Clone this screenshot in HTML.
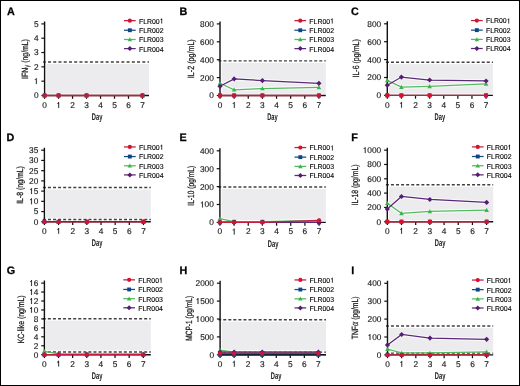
<!DOCTYPE html>
<html><head><meta charset="utf-8"><title>Cytokines</title>
<style>
html,body{margin:0;padding:0;background:#fff;}
body{width:520px;height:386px;overflow:hidden;}
svg{display:block;will-change:transform;}
text{font-family:"Liberation Sans",sans-serif;fill:#1a1a1a;text-rendering:geometricPrecision;}
.tk{font-size:8.3px;stroke:#1a1a1a;stroke-width:0.15px;}
.tk1{fill:#1a1a1a;stroke:#1a1a1a;stroke-width:36px;}
.lg{font-size:7.1px;fill:#000;stroke:#000;stroke-width:0.12px;}
.lg1{fill:#000;stroke:#000;stroke-width:30px;}
.lab{font-size:9.7px;font-weight:bold;}
.yl{font-size:9px;stroke:#1a1a1a;stroke-width:0.25px;}
.gk{stroke-width:0;font-size:8px;}
.ga{font-family:"Liberation Serif",serif;font-style:italic;stroke-width:0.15px;font-size:11px;}
.pl{font-size:10.8px;font-weight:bold;fill:#000;stroke:#000;stroke-width:0.25px;}
</style></head><body>
<svg width="520" height="386" viewBox="0 0 520 386">
<rect x="0" y="0" width="520" height="386" fill="#fff"/>
<rect x="46.3" y="64.05" width="102.7" height="29.75" fill="#ececef"/>
<polyline points="44.6,95.5 58.58,95.5 86.54,95.5 142.46,95.5" fill="none" stroke="#fff" stroke-opacity="0.75" stroke-width="3.4"/>
<line x1="43.1" y1="62.05" x2="149" y2="62.05" stroke="#404040" stroke-width="1.45" stroke-dasharray="3 2.24" stroke-dashoffset="0.34"/>
<path d="M44.6 21.4V95.5H149" fill="none" stroke="#111111" stroke-width="1.4"/>
<line x1="41.4" y1="95.5" x2="44.6" y2="95.5" stroke="#111111" stroke-width="1.2"/>
<text x="33.88" y="98.4" class="tk">0</text>
<line x1="41.4" y1="81.18" x2="44.6" y2="81.18" stroke="#111111" stroke-width="1.2"/>
<path class="tk1" transform="translate(33.88 84.08) scale(0.00405 -0.00405)" d="M700 0L510 0L510 1040L230 1040L230 1170Q390 1175 450 1230Q505 1290 520 1452L700 1452Z"/>
<line x1="41.4" y1="66.86" x2="44.6" y2="66.86" stroke="#111111" stroke-width="1.2"/>
<text x="33.88" y="69.76" class="tk">2</text>
<line x1="41.4" y1="52.54" x2="44.6" y2="52.54" stroke="#111111" stroke-width="1.2"/>
<text x="33.88" y="55.44" class="tk">3</text>
<line x1="41.4" y1="38.22" x2="44.6" y2="38.22" stroke="#111111" stroke-width="1.2"/>
<text x="33.88" y="41.12" class="tk">4</text>
<line x1="41.4" y1="23.9" x2="44.6" y2="23.9" stroke="#111111" stroke-width="1.2"/>
<text x="33.88" y="26.8" class="tk">5</text>
<line x1="44.6" y1="95.5" x2="44.6" y2="98.8" stroke="#111111" stroke-width="1.25"/>
<text x="42.29" y="107.9" class="tk">0</text>
<line x1="58.58" y1="95.5" x2="58.58" y2="98.8" stroke="#111111" stroke-width="1.25"/>
<path class="tk1" transform="translate(56.27 107.9) scale(0.00405 -0.00405)" d="M700 0L510 0L510 1040L230 1040L230 1170Q390 1175 450 1230Q505 1290 520 1452L700 1452Z"/>
<line x1="72.56" y1="95.5" x2="72.56" y2="98.8" stroke="#111111" stroke-width="1.25"/>
<text x="70.25" y="107.9" class="tk">2</text>
<line x1="86.54" y1="95.5" x2="86.54" y2="98.8" stroke="#111111" stroke-width="1.25"/>
<text x="84.23" y="107.9" class="tk">3</text>
<line x1="100.52" y1="95.5" x2="100.52" y2="98.8" stroke="#111111" stroke-width="1.25"/>
<text x="98.21" y="107.9" class="tk">4</text>
<line x1="114.5" y1="95.5" x2="114.5" y2="98.8" stroke="#111111" stroke-width="1.25"/>
<text x="112.19" y="107.9" class="tk">5</text>
<line x1="128.48" y1="95.5" x2="128.48" y2="98.8" stroke="#111111" stroke-width="1.25"/>
<text x="126.17" y="107.9" class="tk">6</text>
<line x1="142.46" y1="95.5" x2="142.46" y2="98.8" stroke="#111111" stroke-width="1.25"/>
<text x="140.15" y="107.9" class="tk">7</text>
<text x="97.1" y="119.8" class="lab" text-anchor="middle" textLength="10.6" lengthAdjust="spacingAndGlyphs">Day</text>
<text transform="translate(28.1 59) rotate(-90)" class="yl" text-anchor="middle" textLength="39.8" lengthAdjust="spacingAndGlyphs">IFN<tspan class="gk" dy="0.8">γ</tspan><tspan dy="-0.8"> (ng/mL)</tspan></text>
<text x="7" y="14.9" class="pl">A</text>
<rect x="42.6" y="93.5" width="4" height="4" fill="#0f4585"/>
<rect x="56.58" y="93.5" width="4" height="4" fill="#0f4585"/>
<rect x="84.54" y="93.5" width="4" height="4" fill="#0f4585"/>
<rect x="140.46" y="93.5" width="4" height="4" fill="#0f4585"/>
<path d="M44.6 93.2L46.9 97.34L42.3 97.34Z" fill="#3bb54a"/>
<path d="M58.58 93.2L60.88 97.34L56.28 97.34Z" fill="#3bb54a"/>
<path d="M86.54 93.2L88.84 97.34L84.24 97.34Z" fill="#3bb54a"/>
<path d="M142.46 93.2L144.76 97.34L140.16 97.34Z" fill="#3bb54a"/>
<path d="M44.6 92.9L47.2 95.5L44.6 98.1L42 95.5Z" fill="#561c74"/>
<path d="M58.58 92.9L61.18 95.5L58.58 98.1L55.98 95.5Z" fill="#561c74"/>
<path d="M86.54 92.9L89.14 95.5L86.54 98.1L83.94 95.5Z" fill="#561c74"/>
<path d="M142.46 92.9L145.06 95.5L142.46 98.1L139.86 95.5Z" fill="#561c74"/>
<polyline points="44.6,95.5 58.58,95.5 86.54,95.5 142.46,95.5" fill="none" stroke="#c81c3c" stroke-width="1.3"/>
<circle cx="44.6" cy="95.5" r="2.15" fill="#d8102f"/>
<circle cx="58.58" cy="95.5" r="2.15" fill="#d8102f"/>
<circle cx="86.54" cy="95.5" r="2.15" fill="#d8102f"/>
<circle cx="142.46" cy="95.5" r="2.15" fill="#d8102f"/>
<line x1="124" y1="20.65" x2="135.7" y2="20.65" stroke="#c81c3c" stroke-width="1.25"/>
<circle cx="129.85" cy="20.65" r="2.09" fill="#d8102f"/>
<text x="138.9" y="23.55" class="lg" textLength="20.84" lengthAdjust="spacingAndGlyphs">FLR00</text>
<path class="lg1" transform="translate(159.74 23.55) scale(0.00339 -0.00347)" d="M700 0L510 0L510 1040L230 1040L230 1170Q390 1175 450 1230Q505 1290 520 1452L700 1452Z"/>
<line x1="124" y1="30.25" x2="135.7" y2="30.25" stroke="#184a84" stroke-width="1.25"/>
<rect x="127.91" y="28.31" width="3.88" height="3.88" fill="#0f4585"/>
<text x="138.9" y="33.15" class="lg" textLength="20.84" lengthAdjust="spacingAndGlyphs">FLR00</text>
<text x="159.74" y="33.15" class="lg" textLength="3.86" lengthAdjust="spacingAndGlyphs">2</text>
<line x1="124" y1="39.5" x2="135.7" y2="39.5" stroke="#52bb5e" stroke-width="1.25"/>
<path d="M129.85 37.27L132.08 41.28L127.62 41.28Z" fill="#3bb54a"/>
<text x="138.9" y="42.4" class="lg" textLength="20.84" lengthAdjust="spacingAndGlyphs">FLR00</text>
<text x="159.74" y="42.4" class="lg" textLength="3.86" lengthAdjust="spacingAndGlyphs">3</text>
<line x1="124" y1="48.6" x2="135.7" y2="48.6" stroke="#5a2876" stroke-width="1.25"/>
<path d="M129.85 46.08L132.37 48.6L129.85 51.12L127.33 48.6Z" fill="#561c74"/>
<text x="138.9" y="51.5" class="lg" textLength="20.84" lengthAdjust="spacingAndGlyphs">FLR00</text>
<text x="159.74" y="51.5" class="lg" textLength="3.86" lengthAdjust="spacingAndGlyphs">4</text>
<rect x="221.7" y="62.85" width="104.1" height="30.95" fill="#ececef"/>
<polyline points="220,83.24 234.13,89.77 262.39,88.52 318.91,87.44" fill="none" stroke="#fff" stroke-opacity="0.75" stroke-width="3.4"/>
<polyline points="220,86.28 234.13,78.94 262.39,80.55 318.91,83.33" fill="none" stroke="#fff" stroke-opacity="0.75" stroke-width="3.4"/>
<polyline points="220,95.5 234.13,95.5 262.39,95.5 318.91,95.5" fill="none" stroke="#fff" stroke-opacity="0.75" stroke-width="3.4"/>
<line x1="218.5" y1="60.85" x2="325.8" y2="60.85" stroke="#404040" stroke-width="1.45" stroke-dasharray="3 2.04" stroke-dashoffset="0.04"/>
<path d="M220 21.4V95.5H325.8" fill="none" stroke="#111111" stroke-width="1.4"/>
<line x1="216.8" y1="95.5" x2="220" y2="95.5" stroke="#111111" stroke-width="1.2"/>
<text x="209.28" y="98.4" class="tk">0</text>
<line x1="216.8" y1="77.6" x2="220" y2="77.6" stroke="#111111" stroke-width="1.2"/>
<text x="200.05" y="80.5" class="tk">200</text>
<line x1="216.8" y1="59.7" x2="220" y2="59.7" stroke="#111111" stroke-width="1.2"/>
<text x="200.05" y="62.6" class="tk">400</text>
<line x1="216.8" y1="41.8" x2="220" y2="41.8" stroke="#111111" stroke-width="1.2"/>
<text x="200.05" y="44.7" class="tk">600</text>
<line x1="216.8" y1="23.9" x2="220" y2="23.9" stroke="#111111" stroke-width="1.2"/>
<text x="200.05" y="26.8" class="tk">800</text>
<line x1="220" y1="95.5" x2="220" y2="98.8" stroke="#111111" stroke-width="1.25"/>
<text x="217.69" y="107.9" class="tk">0</text>
<line x1="234.13" y1="95.5" x2="234.13" y2="98.8" stroke="#111111" stroke-width="1.25"/>
<path class="tk1" transform="translate(231.82 107.9) scale(0.00405 -0.00405)" d="M700 0L510 0L510 1040L230 1040L230 1170Q390 1175 450 1230Q505 1290 520 1452L700 1452Z"/>
<line x1="248.26" y1="95.5" x2="248.26" y2="98.8" stroke="#111111" stroke-width="1.25"/>
<text x="245.95" y="107.9" class="tk">2</text>
<line x1="262.39" y1="95.5" x2="262.39" y2="98.8" stroke="#111111" stroke-width="1.25"/>
<text x="260.08" y="107.9" class="tk">3</text>
<line x1="276.52" y1="95.5" x2="276.52" y2="98.8" stroke="#111111" stroke-width="1.25"/>
<text x="274.21" y="107.9" class="tk">4</text>
<line x1="290.65" y1="95.5" x2="290.65" y2="98.8" stroke="#111111" stroke-width="1.25"/>
<text x="288.34" y="107.9" class="tk">5</text>
<line x1="304.78" y1="95.5" x2="304.78" y2="98.8" stroke="#111111" stroke-width="1.25"/>
<text x="302.47" y="107.9" class="tk">6</text>
<line x1="318.91" y1="95.5" x2="318.91" y2="98.8" stroke="#111111" stroke-width="1.25"/>
<text x="316.6" y="107.9" class="tk">7</text>
<text x="272.45" y="119.7" class="lab" text-anchor="middle" textLength="10.6" lengthAdjust="spacingAndGlyphs">Day</text>
<text transform="translate(194.3 58.7) rotate(-90)" class="yl" text-anchor="middle" textLength="38.9" lengthAdjust="spacingAndGlyphs">IL-2 (pg/mL)</text>
<text x="179.6" y="14.9" class="pl">B</text>
<rect x="218" y="93.5" width="4" height="4" fill="#0f4585"/>
<rect x="232.13" y="93.5" width="4" height="4" fill="#0f4585"/>
<rect x="260.39" y="93.5" width="4" height="4" fill="#0f4585"/>
<rect x="316.91" y="93.5" width="4" height="4" fill="#0f4585"/>
<polyline points="220,83.24 234.13,89.77 262.39,88.52 318.91,87.44" fill="none" stroke="#52bb5e" stroke-width="1.25"/>
<path d="M220 80.94L222.3 85.08L217.7 85.08Z" fill="#3bb54a"/>
<path d="M234.13 87.47L236.43 91.61L231.83 91.61Z" fill="#3bb54a"/>
<path d="M262.39 86.22L264.69 90.36L260.09 90.36Z" fill="#3bb54a"/>
<path d="M318.91 85.14L321.21 89.28L316.61 89.28Z" fill="#3bb54a"/>
<polyline points="220,86.28 234.13,78.94 262.39,80.55 318.91,83.33" fill="none" stroke="#5a2876" stroke-width="1.25"/>
<path d="M220 83.68L222.6 86.28L220 88.88L217.4 86.28Z" fill="#561c74"/>
<path d="M234.13 76.34L236.73 78.94L234.13 81.54L231.53 78.94Z" fill="#561c74"/>
<path d="M262.39 77.95L264.99 80.55L262.39 83.15L259.79 80.55Z" fill="#561c74"/>
<path d="M318.91 80.73L321.51 83.33L318.91 85.93L316.31 83.33Z" fill="#561c74"/>
<polyline points="220,95.5 234.13,95.5 262.39,95.5 318.91,95.5" fill="none" stroke="#c81c3c" stroke-width="1.3"/>
<circle cx="220" cy="95.5" r="2.15" fill="#d8102f"/>
<circle cx="234.13" cy="95.5" r="2.15" fill="#d8102f"/>
<circle cx="262.39" cy="95.5" r="2.15" fill="#d8102f"/>
<circle cx="318.91" cy="95.5" r="2.15" fill="#d8102f"/>
<line x1="294.4" y1="20.65" x2="306.1" y2="20.65" stroke="#c81c3c" stroke-width="1.25"/>
<circle cx="300.25" cy="20.65" r="2.09" fill="#d8102f"/>
<text x="309.3" y="23.55" class="lg" textLength="20.84" lengthAdjust="spacingAndGlyphs">FLR00</text>
<path class="lg1" transform="translate(330.14 23.55) scale(0.00339 -0.00347)" d="M700 0L510 0L510 1040L230 1040L230 1170Q390 1175 450 1230Q505 1290 520 1452L700 1452Z"/>
<line x1="294.4" y1="30.25" x2="306.1" y2="30.25" stroke="#184a84" stroke-width="1.25"/>
<rect x="298.31" y="28.31" width="3.88" height="3.88" fill="#0f4585"/>
<text x="309.3" y="33.15" class="lg" textLength="20.84" lengthAdjust="spacingAndGlyphs">FLR00</text>
<text x="330.14" y="33.15" class="lg" textLength="3.86" lengthAdjust="spacingAndGlyphs">2</text>
<line x1="294.4" y1="39.5" x2="306.1" y2="39.5" stroke="#52bb5e" stroke-width="1.25"/>
<path d="M300.25 37.27L302.48 41.28L298.02 41.28Z" fill="#3bb54a"/>
<text x="309.3" y="42.4" class="lg" textLength="20.84" lengthAdjust="spacingAndGlyphs">FLR00</text>
<text x="330.14" y="42.4" class="lg" textLength="3.86" lengthAdjust="spacingAndGlyphs">3</text>
<line x1="294.4" y1="48.6" x2="306.1" y2="48.6" stroke="#5a2876" stroke-width="1.25"/>
<path d="M300.25 46.08L302.77 48.6L300.25 51.12L297.73 48.6Z" fill="#561c74"/>
<text x="309.3" y="51.5" class="lg" textLength="20.84" lengthAdjust="spacingAndGlyphs">FLR00</text>
<text x="330.14" y="51.5" class="lg" textLength="3.86" lengthAdjust="spacingAndGlyphs">4</text>
<rect x="389" y="64.15" width="103.9" height="29.55" fill="#ececef"/>
<polyline points="387.3,80.36 401.41,87.08 429.63,86.36 486.07,83.85" fill="none" stroke="#fff" stroke-opacity="0.75" stroke-width="3.4"/>
<polyline points="387.3,85.2 401.41,77.05 429.63,80.01 486.07,80.99" fill="none" stroke="#fff" stroke-opacity="0.75" stroke-width="3.4"/>
<polyline points="387.3,95.4 401.41,95.4 429.63,95.4 486.07,95.4" fill="none" stroke="#fff" stroke-opacity="0.75" stroke-width="3.4"/>
<line x1="385.8" y1="62.15" x2="492.9" y2="62.15" stroke="#404040" stroke-width="1.45" stroke-dasharray="3 2.04" stroke-dashoffset="-0.16"/>
<path d="M387.3 21.3V95.4H492.9" fill="none" stroke="#111111" stroke-width="1.4"/>
<line x1="384.1" y1="95.4" x2="387.3" y2="95.4" stroke="#111111" stroke-width="1.2"/>
<text x="376.58" y="98.3" class="tk">0</text>
<line x1="384.1" y1="77.5" x2="387.3" y2="77.5" stroke="#111111" stroke-width="1.2"/>
<text x="367.35" y="80.4" class="tk">200</text>
<line x1="384.1" y1="59.6" x2="387.3" y2="59.6" stroke="#111111" stroke-width="1.2"/>
<text x="367.35" y="62.5" class="tk">400</text>
<line x1="384.1" y1="41.7" x2="387.3" y2="41.7" stroke="#111111" stroke-width="1.2"/>
<text x="367.35" y="44.6" class="tk">600</text>
<line x1="384.1" y1="23.8" x2="387.3" y2="23.8" stroke="#111111" stroke-width="1.2"/>
<text x="367.35" y="26.7" class="tk">800</text>
<line x1="387.3" y1="95.4" x2="387.3" y2="98.7" stroke="#111111" stroke-width="1.25"/>
<text x="384.99" y="107.8" class="tk">0</text>
<line x1="401.41" y1="95.4" x2="401.41" y2="98.7" stroke="#111111" stroke-width="1.25"/>
<path class="tk1" transform="translate(399.1 107.8) scale(0.00405 -0.00405)" d="M700 0L510 0L510 1040L230 1040L230 1170Q390 1175 450 1230Q505 1290 520 1452L700 1452Z"/>
<line x1="415.52" y1="95.4" x2="415.52" y2="98.7" stroke="#111111" stroke-width="1.25"/>
<text x="413.21" y="107.8" class="tk">2</text>
<line x1="429.63" y1="95.4" x2="429.63" y2="98.7" stroke="#111111" stroke-width="1.25"/>
<text x="427.32" y="107.8" class="tk">3</text>
<line x1="443.74" y1="95.4" x2="443.74" y2="98.7" stroke="#111111" stroke-width="1.25"/>
<text x="441.43" y="107.8" class="tk">4</text>
<line x1="457.85" y1="95.4" x2="457.85" y2="98.7" stroke="#111111" stroke-width="1.25"/>
<text x="455.54" y="107.8" class="tk">5</text>
<line x1="471.96" y1="95.4" x2="471.96" y2="98.7" stroke="#111111" stroke-width="1.25"/>
<text x="469.65" y="107.8" class="tk">6</text>
<line x1="486.07" y1="95.4" x2="486.07" y2="98.7" stroke="#111111" stroke-width="1.25"/>
<text x="483.76" y="107.8" class="tk">7</text>
<text x="439.9" y="120" class="lab" text-anchor="middle" textLength="10.6" lengthAdjust="spacingAndGlyphs">Day</text>
<text transform="translate(358.5 58.4) rotate(-90)" class="yl" text-anchor="middle" textLength="38.3" lengthAdjust="spacingAndGlyphs">IL-6 (pg/mL)</text>
<text x="351" y="14.9" class="pl">C</text>
<rect x="385.3" y="93.4" width="4" height="4" fill="#0f4585"/>
<rect x="399.41" y="93.4" width="4" height="4" fill="#0f4585"/>
<rect x="427.63" y="93.4" width="4" height="4" fill="#0f4585"/>
<rect x="484.07" y="93.4" width="4" height="4" fill="#0f4585"/>
<polyline points="387.3,80.36 401.41,87.08 429.63,86.36 486.07,83.85" fill="none" stroke="#52bb5e" stroke-width="1.25"/>
<path d="M387.3 78.06L389.6 82.2L385 82.2Z" fill="#3bb54a"/>
<path d="M401.41 84.78L403.71 88.92L399.11 88.92Z" fill="#3bb54a"/>
<path d="M429.63 84.06L431.93 88.2L427.33 88.2Z" fill="#3bb54a"/>
<path d="M486.07 81.55L488.37 85.69L483.77 85.69Z" fill="#3bb54a"/>
<polyline points="387.3,85.2 401.41,77.05 429.63,80.01 486.07,80.99" fill="none" stroke="#5a2876" stroke-width="1.25"/>
<path d="M387.3 82.6L389.9 85.2L387.3 87.8L384.7 85.2Z" fill="#561c74"/>
<path d="M401.41 74.45L404.01 77.05L401.41 79.65L398.81 77.05Z" fill="#561c74"/>
<path d="M429.63 77.41L432.23 80.01L429.63 82.61L427.03 80.01Z" fill="#561c74"/>
<path d="M486.07 78.39L488.67 80.99L486.07 83.59L483.47 80.99Z" fill="#561c74"/>
<polyline points="387.3,95.4 401.41,95.4 429.63,95.4 486.07,95.4" fill="none" stroke="#c81c3c" stroke-width="1.3"/>
<circle cx="387.3" cy="95.4" r="2.15" fill="#d8102f"/>
<circle cx="401.41" cy="95.4" r="2.15" fill="#d8102f"/>
<circle cx="429.63" cy="95.4" r="2.15" fill="#d8102f"/>
<circle cx="486.07" cy="95.4" r="2.15" fill="#d8102f"/>
<line x1="471" y1="20.55" x2="482.7" y2="20.55" stroke="#c81c3c" stroke-width="1.25"/>
<circle cx="476.85" cy="20.55" r="2.09" fill="#d8102f"/>
<text x="485.9" y="23.45" class="lg" textLength="20.84" lengthAdjust="spacingAndGlyphs">FLR00</text>
<path class="lg1" transform="translate(506.74 23.45) scale(0.00339 -0.00347)" d="M700 0L510 0L510 1040L230 1040L230 1170Q390 1175 450 1230Q505 1290 520 1452L700 1452Z"/>
<line x1="471" y1="30.15" x2="482.7" y2="30.15" stroke="#184a84" stroke-width="1.25"/>
<rect x="474.91" y="28.21" width="3.88" height="3.88" fill="#0f4585"/>
<text x="485.9" y="33.05" class="lg" textLength="20.84" lengthAdjust="spacingAndGlyphs">FLR00</text>
<text x="506.74" y="33.05" class="lg" textLength="3.86" lengthAdjust="spacingAndGlyphs">2</text>
<line x1="471" y1="39.4" x2="482.7" y2="39.4" stroke="#52bb5e" stroke-width="1.25"/>
<path d="M476.85 37.17L479.08 41.18L474.62 41.18Z" fill="#3bb54a"/>
<text x="485.9" y="42.3" class="lg" textLength="20.84" lengthAdjust="spacingAndGlyphs">FLR00</text>
<text x="506.74" y="42.3" class="lg" textLength="3.86" lengthAdjust="spacingAndGlyphs">3</text>
<line x1="471" y1="48.5" x2="482.7" y2="48.5" stroke="#5a2876" stroke-width="1.25"/>
<path d="M476.85 45.98L479.37 48.5L476.85 51.02L474.33 48.5Z" fill="#561c74"/>
<text x="485.9" y="51.4" class="lg" textLength="20.84" lengthAdjust="spacingAndGlyphs">FLR00</text>
<text x="506.74" y="51.4" class="lg" textLength="3.86" lengthAdjust="spacingAndGlyphs">4</text>
<rect x="46.1" y="189.46" width="104.7" height="28.49" fill="#ececef"/>
<polyline points="44.4,221.8 58.55,221.8 86.85,221.8 143.45,221.8" fill="none" stroke="#fff" stroke-opacity="0.75" stroke-width="3.4"/>
<line x1="42.9" y1="187.46" x2="150.8" y2="187.46" stroke="#404040" stroke-width="1.45" stroke-dasharray="3 2.07" stroke-dashoffset="0.01"/>
<line x1="42.9" y1="219.45" x2="150.8" y2="219.45" stroke="#404040" stroke-width="1.45" stroke-dasharray="3 2.07" stroke-dashoffset="0.01"/>
<path d="M44.4 147.7V221.8H150.8" fill="none" stroke="#111111" stroke-width="1.4"/>
<line x1="41.2" y1="221.8" x2="44.4" y2="221.8" stroke="#111111" stroke-width="1.2"/>
<text x="33.68" y="224.7" class="tk">0</text>
<line x1="41.2" y1="211.57" x2="44.4" y2="211.57" stroke="#111111" stroke-width="1.2"/>
<text x="33.68" y="214.47" class="tk">5</text>
<line x1="41.2" y1="201.34" x2="44.4" y2="201.34" stroke="#111111" stroke-width="1.2"/>
<path class="tk1" transform="translate(29.07 204.24) scale(0.00405 -0.00405)" d="M700 0L510 0L510 1040L230 1040L230 1170Q390 1175 450 1230Q505 1290 520 1452L700 1452Z"/>
<text x="33.68" y="204.24" class="tk">0</text>
<line x1="41.2" y1="191.11" x2="44.4" y2="191.11" stroke="#111111" stroke-width="1.2"/>
<path class="tk1" transform="translate(29.07 194.01) scale(0.00405 -0.00405)" d="M700 0L510 0L510 1040L230 1040L230 1170Q390 1175 450 1230Q505 1290 520 1452L700 1452Z"/>
<text x="33.68" y="194.01" class="tk">5</text>
<line x1="41.2" y1="180.89" x2="44.4" y2="180.89" stroke="#111111" stroke-width="1.2"/>
<text x="29.07" y="183.79" class="tk">20</text>
<line x1="41.2" y1="170.66" x2="44.4" y2="170.66" stroke="#111111" stroke-width="1.2"/>
<text x="29.07" y="173.56" class="tk">25</text>
<line x1="41.2" y1="160.43" x2="44.4" y2="160.43" stroke="#111111" stroke-width="1.2"/>
<text x="29.07" y="163.33" class="tk">30</text>
<line x1="41.2" y1="150.2" x2="44.4" y2="150.2" stroke="#111111" stroke-width="1.2"/>
<text x="29.07" y="153.1" class="tk">35</text>
<line x1="44.4" y1="221.8" x2="44.4" y2="225.1" stroke="#111111" stroke-width="1.25"/>
<text x="42.09" y="233.8" class="tk">0</text>
<line x1="58.55" y1="221.8" x2="58.55" y2="225.1" stroke="#111111" stroke-width="1.25"/>
<path class="tk1" transform="translate(56.24 233.8) scale(0.00405 -0.00405)" d="M700 0L510 0L510 1040L230 1040L230 1170Q390 1175 450 1230Q505 1290 520 1452L700 1452Z"/>
<line x1="72.7" y1="221.8" x2="72.7" y2="225.1" stroke="#111111" stroke-width="1.25"/>
<text x="70.39" y="233.8" class="tk">2</text>
<line x1="86.85" y1="221.8" x2="86.85" y2="225.1" stroke="#111111" stroke-width="1.25"/>
<text x="84.54" y="233.8" class="tk">3</text>
<line x1="101" y1="221.8" x2="101" y2="225.1" stroke="#111111" stroke-width="1.25"/>
<text x="98.69" y="233.8" class="tk">4</text>
<line x1="115.15" y1="221.8" x2="115.15" y2="225.1" stroke="#111111" stroke-width="1.25"/>
<text x="112.84" y="233.8" class="tk">5</text>
<line x1="129.3" y1="221.8" x2="129.3" y2="225.1" stroke="#111111" stroke-width="1.25"/>
<text x="126.99" y="233.8" class="tk">6</text>
<line x1="143.45" y1="221.8" x2="143.45" y2="225.1" stroke="#111111" stroke-width="1.25"/>
<text x="141.14" y="233.8" class="tk">7</text>
<text x="97.1" y="246.4" class="lab" text-anchor="middle" textLength="10.6" lengthAdjust="spacingAndGlyphs">Day</text>
<text transform="translate(23 185) rotate(-90)" class="yl" text-anchor="middle" textLength="37.6" lengthAdjust="spacingAndGlyphs">IL-8 (ng/mL)</text>
<text x="6.5" y="141" class="pl">D</text>
<rect x="42.4" y="219.8" width="4" height="4" fill="#0f4585"/>
<rect x="56.55" y="219.8" width="4" height="4" fill="#0f4585"/>
<rect x="84.85" y="219.8" width="4" height="4" fill="#0f4585"/>
<rect x="141.45" y="219.8" width="4" height="4" fill="#0f4585"/>
<path d="M44.4 219.5L46.7 223.64L42.1 223.64Z" fill="#3bb54a"/>
<path d="M58.55 219.5L60.85 223.64L56.25 223.64Z" fill="#3bb54a"/>
<path d="M86.85 219.5L89.15 223.64L84.55 223.64Z" fill="#3bb54a"/>
<path d="M143.45 219.5L145.75 223.64L141.15 223.64Z" fill="#3bb54a"/>
<path d="M44.4 219.2L47 221.8L44.4 224.4L41.8 221.8Z" fill="#561c74"/>
<path d="M58.55 219.2L61.15 221.8L58.55 224.4L55.95 221.8Z" fill="#561c74"/>
<path d="M86.85 219.2L89.45 221.8L86.85 224.4L84.25 221.8Z" fill="#561c74"/>
<path d="M143.45 219.2L146.05 221.8L143.45 224.4L140.85 221.8Z" fill="#561c74"/>
<polyline points="44.4,221.8 58.55,221.8 86.85,221.8 143.45,221.8" fill="none" stroke="#c81c3c" stroke-width="1.3"/>
<circle cx="44.4" cy="221.8" r="2.15" fill="#d8102f"/>
<circle cx="58.55" cy="221.8" r="2.15" fill="#d8102f"/>
<circle cx="86.85" cy="221.8" r="2.15" fill="#d8102f"/>
<circle cx="143.45" cy="221.8" r="2.15" fill="#d8102f"/>
<line x1="124" y1="146.95" x2="135.7" y2="146.95" stroke="#c81c3c" stroke-width="1.25"/>
<circle cx="129.85" cy="146.95" r="2.09" fill="#d8102f"/>
<text x="138.9" y="149.85" class="lg" textLength="20.84" lengthAdjust="spacingAndGlyphs">FLR00</text>
<path class="lg1" transform="translate(159.74 149.85) scale(0.00339 -0.00347)" d="M700 0L510 0L510 1040L230 1040L230 1170Q390 1175 450 1230Q505 1290 520 1452L700 1452Z"/>
<line x1="124" y1="156.55" x2="135.7" y2="156.55" stroke="#184a84" stroke-width="1.25"/>
<rect x="127.91" y="154.61" width="3.88" height="3.88" fill="#0f4585"/>
<text x="138.9" y="159.45" class="lg" textLength="20.84" lengthAdjust="spacingAndGlyphs">FLR00</text>
<text x="159.74" y="159.45" class="lg" textLength="3.86" lengthAdjust="spacingAndGlyphs">2</text>
<line x1="124" y1="165.8" x2="135.7" y2="165.8" stroke="#52bb5e" stroke-width="1.25"/>
<path d="M129.85 163.57L132.08 167.58L127.62 167.58Z" fill="#3bb54a"/>
<text x="138.9" y="168.7" class="lg" textLength="20.84" lengthAdjust="spacingAndGlyphs">FLR00</text>
<text x="159.74" y="168.7" class="lg" textLength="3.86" lengthAdjust="spacingAndGlyphs">3</text>
<line x1="124" y1="174.9" x2="135.7" y2="174.9" stroke="#5a2876" stroke-width="1.25"/>
<path d="M129.85 172.38L132.37 174.9L129.85 177.42L127.33 174.9Z" fill="#561c74"/>
<text x="138.9" y="177.8" class="lg" textLength="20.84" lengthAdjust="spacingAndGlyphs">FLR00</text>
<text x="159.74" y="177.8" class="lg" textLength="3.86" lengthAdjust="spacingAndGlyphs">4</text>
<rect x="221.6" y="188.9" width="104.2" height="31.8" fill="#ececef"/>
<polyline points="219.9,222.4 234.07,221.86 262.41,221.86 319.09,222.4" fill="none" stroke="#fff" stroke-opacity="0.75" stroke-width="3.4"/>
<polyline points="219.9,218.64 234.07,221.68 262.41,221.68 319.09,220.25" fill="none" stroke="#fff" stroke-opacity="0.75" stroke-width="3.4"/>
<polyline points="219.9,222.4 234.07,222.4 262.41,222.4 319.09,222.4" fill="none" stroke="#fff" stroke-opacity="0.75" stroke-width="3.4"/>
<polyline points="219.9,222.4 234.07,222.4 262.41,222.4 319.09,220.43" fill="none" stroke="#fff" stroke-opacity="0.75" stroke-width="3.4"/>
<line x1="218.4" y1="186.9" x2="325.8" y2="186.9" stroke="#404040" stroke-width="1.45" stroke-dasharray="3 2.05" stroke-dashoffset="0.18"/>
<path d="M219.9 148.3V222.4H325.8" fill="none" stroke="#111111" stroke-width="1.4"/>
<line x1="216.7" y1="222.4" x2="219.9" y2="222.4" stroke="#111111" stroke-width="1.2"/>
<text x="209.18" y="225.3" class="tk">0</text>
<line x1="216.7" y1="204.5" x2="219.9" y2="204.5" stroke="#111111" stroke-width="1.2"/>
<path class="tk1" transform="translate(199.95 207.4) scale(0.00405 -0.00405)" d="M700 0L510 0L510 1040L230 1040L230 1170Q390 1175 450 1230Q505 1290 520 1452L700 1452Z"/>
<text x="204.57" y="207.4" class="tk">00</text>
<line x1="216.7" y1="186.6" x2="219.9" y2="186.6" stroke="#111111" stroke-width="1.2"/>
<text x="199.95" y="189.5" class="tk">200</text>
<line x1="216.7" y1="168.7" x2="219.9" y2="168.7" stroke="#111111" stroke-width="1.2"/>
<text x="199.95" y="171.6" class="tk">300</text>
<line x1="216.7" y1="150.8" x2="219.9" y2="150.8" stroke="#111111" stroke-width="1.2"/>
<text x="199.95" y="153.7" class="tk">400</text>
<line x1="219.9" y1="222.4" x2="219.9" y2="225.7" stroke="#111111" stroke-width="1.25"/>
<text x="217.59" y="234.4" class="tk">0</text>
<line x1="234.07" y1="222.4" x2="234.07" y2="225.7" stroke="#111111" stroke-width="1.25"/>
<path class="tk1" transform="translate(231.76 234.4) scale(0.00405 -0.00405)" d="M700 0L510 0L510 1040L230 1040L230 1170Q390 1175 450 1230Q505 1290 520 1452L700 1452Z"/>
<line x1="248.24" y1="222.4" x2="248.24" y2="225.7" stroke="#111111" stroke-width="1.25"/>
<text x="245.93" y="234.4" class="tk">2</text>
<line x1="262.41" y1="222.4" x2="262.41" y2="225.7" stroke="#111111" stroke-width="1.25"/>
<text x="260.1" y="234.4" class="tk">3</text>
<line x1="276.58" y1="222.4" x2="276.58" y2="225.7" stroke="#111111" stroke-width="1.25"/>
<text x="274.27" y="234.4" class="tk">4</text>
<line x1="290.75" y1="222.4" x2="290.75" y2="225.7" stroke="#111111" stroke-width="1.25"/>
<text x="288.44" y="234.4" class="tk">5</text>
<line x1="304.92" y1="222.4" x2="304.92" y2="225.7" stroke="#111111" stroke-width="1.25"/>
<text x="302.61" y="234.4" class="tk">6</text>
<line x1="319.09" y1="222.4" x2="319.09" y2="225.7" stroke="#111111" stroke-width="1.25"/>
<text x="316.78" y="234.4" class="tk">7</text>
<text x="273.05" y="246.8" class="lab" text-anchor="middle" textLength="10.6" lengthAdjust="spacingAndGlyphs">Day</text>
<text transform="translate(194.4 185.8) rotate(-90)" class="yl" text-anchor="middle" textLength="39.8" lengthAdjust="spacingAndGlyphs">IL-10 (pg/mL)</text>
<text x="179.6" y="141" class="pl">E</text>
<polyline points="219.9,222.4 234.07,221.86 262.41,221.86 319.09,222.4" fill="none" stroke="#184a84" stroke-width="1.25"/>
<rect x="217.9" y="220.4" width="4" height="4" fill="#0f4585"/>
<rect x="232.07" y="219.86" width="4" height="4" fill="#0f4585"/>
<rect x="260.41" y="219.86" width="4" height="4" fill="#0f4585"/>
<rect x="317.09" y="220.4" width="4" height="4" fill="#0f4585"/>
<polyline points="219.9,218.64 234.07,221.68 262.41,221.68 319.09,220.25" fill="none" stroke="#52bb5e" stroke-width="1.25"/>
<path d="M219.9 216.34L222.2 220.48L217.6 220.48Z" fill="#3bb54a"/>
<path d="M234.07 219.38L236.37 223.52L231.77 223.52Z" fill="#3bb54a"/>
<path d="M262.41 219.38L264.71 223.52L260.11 223.52Z" fill="#3bb54a"/>
<path d="M319.09 217.95L321.39 222.09L316.79 222.09Z" fill="#3bb54a"/>
<polyline points="219.9,222.4 234.07,222.4 262.41,222.4 319.09,222.4" fill="none" stroke="#5a2876" stroke-width="1.25"/>
<path d="M219.9 219.8L222.5 222.4L219.9 225L217.3 222.4Z" fill="#561c74"/>
<path d="M234.07 219.8L236.67 222.4L234.07 225L231.47 222.4Z" fill="#561c74"/>
<path d="M262.41 219.8L265.01 222.4L262.41 225L259.81 222.4Z" fill="#561c74"/>
<path d="M319.09 219.8L321.69 222.4L319.09 225L316.49 222.4Z" fill="#561c74"/>
<polyline points="219.9,222.4 234.07,222.4 262.41,222.4 319.09,220.43" fill="none" stroke="#c81c3c" stroke-width="1.3"/>
<circle cx="219.9" cy="222.4" r="2.15" fill="#d8102f"/>
<circle cx="234.07" cy="222.4" r="2.15" fill="#d8102f"/>
<circle cx="262.41" cy="222.4" r="2.15" fill="#d8102f"/>
<circle cx="319.09" cy="220.43" r="2.15" fill="#d8102f"/>
<line x1="294.5" y1="147.55" x2="306.2" y2="147.55" stroke="#c81c3c" stroke-width="1.25"/>
<circle cx="300.35" cy="147.55" r="2.09" fill="#d8102f"/>
<text x="309.4" y="150.45" class="lg" textLength="20.84" lengthAdjust="spacingAndGlyphs">FLR00</text>
<path class="lg1" transform="translate(330.24 150.45) scale(0.00339 -0.00347)" d="M700 0L510 0L510 1040L230 1040L230 1170Q390 1175 450 1230Q505 1290 520 1452L700 1452Z"/>
<line x1="294.5" y1="157.15" x2="306.2" y2="157.15" stroke="#184a84" stroke-width="1.25"/>
<rect x="298.41" y="155.21" width="3.88" height="3.88" fill="#0f4585"/>
<text x="309.4" y="160.05" class="lg" textLength="20.84" lengthAdjust="spacingAndGlyphs">FLR00</text>
<text x="330.24" y="160.05" class="lg" textLength="3.86" lengthAdjust="spacingAndGlyphs">2</text>
<line x1="294.5" y1="166.4" x2="306.2" y2="166.4" stroke="#52bb5e" stroke-width="1.25"/>
<path d="M300.35 164.17L302.58 168.18L298.12 168.18Z" fill="#3bb54a"/>
<text x="309.4" y="169.3" class="lg" textLength="20.84" lengthAdjust="spacingAndGlyphs">FLR00</text>
<text x="330.24" y="169.3" class="lg" textLength="3.86" lengthAdjust="spacingAndGlyphs">3</text>
<line x1="294.5" y1="175.5" x2="306.2" y2="175.5" stroke="#5a2876" stroke-width="1.25"/>
<path d="M300.35 172.98L302.87 175.5L300.35 178.02L297.83 175.5Z" fill="#561c74"/>
<text x="309.4" y="178.4" class="lg" textLength="20.84" lengthAdjust="spacingAndGlyphs">FLR00</text>
<text x="330.24" y="178.4" class="lg" textLength="3.86" lengthAdjust="spacingAndGlyphs">4</text>
<rect x="389" y="186.65" width="104.2" height="33.4" fill="#ececef"/>
<polyline points="387.3,203.28 401.49,213.3 429.87,211.44 486.63,210.08" fill="none" stroke="#fff" stroke-opacity="0.75" stroke-width="3.4"/>
<polyline points="387.3,209.08 401.49,196.48 429.87,199.48 486.63,202.42" fill="none" stroke="#fff" stroke-opacity="0.75" stroke-width="3.4"/>
<polyline points="387.3,221.75 401.49,221.75 429.87,221.75 486.63,221.75" fill="none" stroke="#fff" stroke-opacity="0.75" stroke-width="3.4"/>
<line x1="385.8" y1="184.65" x2="493.2" y2="184.65" stroke="#404040" stroke-width="1.45" stroke-dasharray="3 2.07" stroke-dashoffset="-0.09"/>
<path d="M387.3 147.65V221.75H493.2" fill="none" stroke="#111111" stroke-width="1.4"/>
<line x1="384.1" y1="221.75" x2="387.3" y2="221.75" stroke="#111111" stroke-width="1.2"/>
<text x="376.58" y="224.65" class="tk">0</text>
<line x1="384.1" y1="207.43" x2="387.3" y2="207.43" stroke="#111111" stroke-width="1.2"/>
<text x="367.35" y="210.33" class="tk">200</text>
<line x1="384.1" y1="193.11" x2="387.3" y2="193.11" stroke="#111111" stroke-width="1.2"/>
<text x="367.35" y="196.01" class="tk">400</text>
<line x1="384.1" y1="178.79" x2="387.3" y2="178.79" stroke="#111111" stroke-width="1.2"/>
<text x="367.35" y="181.69" class="tk">600</text>
<line x1="384.1" y1="164.47" x2="387.3" y2="164.47" stroke="#111111" stroke-width="1.2"/>
<text x="367.35" y="167.37" class="tk">800</text>
<line x1="384.1" y1="150.15" x2="387.3" y2="150.15" stroke="#111111" stroke-width="1.2"/>
<path class="tk1" transform="translate(362.74 153.05) scale(0.00405 -0.00405)" d="M700 0L510 0L510 1040L230 1040L230 1170Q390 1175 450 1230Q505 1290 520 1452L700 1452Z"/>
<text x="367.35" y="153.05" class="tk">000</text>
<line x1="387.3" y1="221.75" x2="387.3" y2="225.05" stroke="#111111" stroke-width="1.25"/>
<text x="384.99" y="233.75" class="tk">0</text>
<line x1="401.49" y1="221.75" x2="401.49" y2="225.05" stroke="#111111" stroke-width="1.25"/>
<path class="tk1" transform="translate(399.18 233.75) scale(0.00405 -0.00405)" d="M700 0L510 0L510 1040L230 1040L230 1170Q390 1175 450 1230Q505 1290 520 1452L700 1452Z"/>
<line x1="415.68" y1="221.75" x2="415.68" y2="225.05" stroke="#111111" stroke-width="1.25"/>
<text x="413.37" y="233.75" class="tk">2</text>
<line x1="429.87" y1="221.75" x2="429.87" y2="225.05" stroke="#111111" stroke-width="1.25"/>
<text x="427.56" y="233.75" class="tk">3</text>
<line x1="444.06" y1="221.75" x2="444.06" y2="225.05" stroke="#111111" stroke-width="1.25"/>
<text x="441.75" y="233.75" class="tk">4</text>
<line x1="458.25" y1="221.75" x2="458.25" y2="225.05" stroke="#111111" stroke-width="1.25"/>
<text x="455.94" y="233.75" class="tk">5</text>
<line x1="472.44" y1="221.75" x2="472.44" y2="225.05" stroke="#111111" stroke-width="1.25"/>
<text x="470.13" y="233.75" class="tk">6</text>
<line x1="486.63" y1="221.75" x2="486.63" y2="225.05" stroke="#111111" stroke-width="1.25"/>
<text x="484.32" y="233.75" class="tk">7</text>
<text x="440.05" y="246.1" class="lab" text-anchor="middle" textLength="10.6" lengthAdjust="spacingAndGlyphs">Day</text>
<text transform="translate(357.9 185) rotate(-90)" class="yl" text-anchor="middle" textLength="41" lengthAdjust="spacingAndGlyphs">IL-18 (pg/mL)</text>
<text x="351.3" y="141" class="pl">F</text>
<rect x="385.3" y="219.75" width="4" height="4" fill="#0f4585"/>
<rect x="399.49" y="219.75" width="4" height="4" fill="#0f4585"/>
<rect x="427.87" y="219.75" width="4" height="4" fill="#0f4585"/>
<rect x="484.63" y="219.75" width="4" height="4" fill="#0f4585"/>
<polyline points="387.3,203.28 401.49,213.3 429.87,211.44 486.63,210.08" fill="none" stroke="#52bb5e" stroke-width="1.25"/>
<path d="M387.3 200.98L389.6 205.12L385 205.12Z" fill="#3bb54a"/>
<path d="M401.49 211L403.79 215.14L399.19 215.14Z" fill="#3bb54a"/>
<path d="M429.87 209.14L432.17 213.28L427.57 213.28Z" fill="#3bb54a"/>
<path d="M486.63 207.78L488.93 211.92L484.33 211.92Z" fill="#3bb54a"/>
<polyline points="387.3,209.08 401.49,196.48 429.87,199.48 486.63,202.42" fill="none" stroke="#5a2876" stroke-width="1.25"/>
<path d="M387.3 206.48L389.9 209.08L387.3 211.68L384.7 209.08Z" fill="#561c74"/>
<path d="M401.49 193.88L404.09 196.48L401.49 199.08L398.89 196.48Z" fill="#561c74"/>
<path d="M429.87 196.88L432.47 199.48L429.87 202.08L427.27 199.48Z" fill="#561c74"/>
<path d="M486.63 199.82L489.23 202.42L486.63 205.02L484.03 202.42Z" fill="#561c74"/>
<polyline points="387.3,221.75 401.49,221.75 429.87,221.75 486.63,221.75" fill="none" stroke="#c81c3c" stroke-width="1.3"/>
<circle cx="387.3" cy="221.75" r="2.15" fill="#d8102f"/>
<circle cx="401.49" cy="221.75" r="2.15" fill="#d8102f"/>
<circle cx="429.87" cy="221.75" r="2.15" fill="#d8102f"/>
<circle cx="486.63" cy="221.75" r="2.15" fill="#d8102f"/>
<line x1="471.9" y1="146.9" x2="483.6" y2="146.9" stroke="#c81c3c" stroke-width="1.25"/>
<circle cx="477.75" cy="146.9" r="2.09" fill="#d8102f"/>
<text x="486.8" y="149.8" class="lg" textLength="20.84" lengthAdjust="spacingAndGlyphs">FLR00</text>
<path class="lg1" transform="translate(507.64 149.8) scale(0.00339 -0.00347)" d="M700 0L510 0L510 1040L230 1040L230 1170Q390 1175 450 1230Q505 1290 520 1452L700 1452Z"/>
<line x1="471.9" y1="156.5" x2="483.6" y2="156.5" stroke="#184a84" stroke-width="1.25"/>
<rect x="475.81" y="154.56" width="3.88" height="3.88" fill="#0f4585"/>
<text x="486.8" y="159.4" class="lg" textLength="20.84" lengthAdjust="spacingAndGlyphs">FLR00</text>
<text x="507.64" y="159.4" class="lg" textLength="3.86" lengthAdjust="spacingAndGlyphs">2</text>
<line x1="471.9" y1="165.75" x2="483.6" y2="165.75" stroke="#52bb5e" stroke-width="1.25"/>
<path d="M477.75 163.52L479.98 167.53L475.52 167.53Z" fill="#3bb54a"/>
<text x="486.8" y="168.65" class="lg" textLength="20.84" lengthAdjust="spacingAndGlyphs">FLR00</text>
<text x="507.64" y="168.65" class="lg" textLength="3.86" lengthAdjust="spacingAndGlyphs">3</text>
<line x1="471.9" y1="174.85" x2="483.6" y2="174.85" stroke="#5a2876" stroke-width="1.25"/>
<path d="M477.75 172.33L480.27 174.85L477.75 177.37L475.23 174.85Z" fill="#561c74"/>
<text x="486.8" y="177.75" class="lg" textLength="20.84" lengthAdjust="spacingAndGlyphs">FLR00</text>
<text x="507.64" y="177.75" class="lg" textLength="3.86" lengthAdjust="spacingAndGlyphs">4</text>
<rect x="46.1" y="320.65" width="104.7" height="29.75" fill="#ececef"/>
<polyline points="44.4,351.34 58.53,353.81 86.79,353.81 143.31,353.81" fill="none" stroke="#fff" stroke-opacity="0.75" stroke-width="3.4"/>
<polyline points="44.4,354.7 58.53,354.7 86.79,354.7 143.31,354.7" fill="none" stroke="#fff" stroke-opacity="0.75" stroke-width="3.4"/>
<line x1="42.9" y1="318.65" x2="150.8" y2="318.65" stroke="#404040" stroke-width="1.45" stroke-dasharray="3 2.07" stroke-dashoffset="0.13"/>
<line x1="42.9" y1="351.9" x2="150.8" y2="351.9" stroke="#404040" stroke-width="1.45" stroke-dasharray="3 2.07" stroke-dashoffset="0.13"/>
<path d="M44.4 280.6V354.7H150.8" fill="none" stroke="#111111" stroke-width="1.4"/>
<line x1="41.2" y1="354.7" x2="44.4" y2="354.7" stroke="#111111" stroke-width="1.2"/>
<text x="33.68" y="357.6" class="tk">0</text>
<line x1="41.2" y1="345.75" x2="44.4" y2="345.75" stroke="#111111" stroke-width="1.2"/>
<text x="33.68" y="348.65" class="tk">2</text>
<line x1="41.2" y1="336.8" x2="44.4" y2="336.8" stroke="#111111" stroke-width="1.2"/>
<text x="33.68" y="339.7" class="tk">4</text>
<line x1="41.2" y1="327.85" x2="44.4" y2="327.85" stroke="#111111" stroke-width="1.2"/>
<text x="33.68" y="330.75" class="tk">6</text>
<line x1="41.2" y1="318.9" x2="44.4" y2="318.9" stroke="#111111" stroke-width="1.2"/>
<text x="33.68" y="321.8" class="tk">8</text>
<line x1="41.2" y1="309.95" x2="44.4" y2="309.95" stroke="#111111" stroke-width="1.2"/>
<path class="tk1" transform="translate(29.07 312.85) scale(0.00405 -0.00405)" d="M700 0L510 0L510 1040L230 1040L230 1170Q390 1175 450 1230Q505 1290 520 1452L700 1452Z"/>
<text x="33.68" y="312.85" class="tk">0</text>
<line x1="41.2" y1="301" x2="44.4" y2="301" stroke="#111111" stroke-width="1.2"/>
<path class="tk1" transform="translate(29.07 303.9) scale(0.00405 -0.00405)" d="M700 0L510 0L510 1040L230 1040L230 1170Q390 1175 450 1230Q505 1290 520 1452L700 1452Z"/>
<text x="33.68" y="303.9" class="tk">2</text>
<line x1="41.2" y1="292.05" x2="44.4" y2="292.05" stroke="#111111" stroke-width="1.2"/>
<path class="tk1" transform="translate(29.07 294.95) scale(0.00405 -0.00405)" d="M700 0L510 0L510 1040L230 1040L230 1170Q390 1175 450 1230Q505 1290 520 1452L700 1452Z"/>
<text x="33.68" y="294.95" class="tk">4</text>
<line x1="41.2" y1="283.1" x2="44.4" y2="283.1" stroke="#111111" stroke-width="1.2"/>
<path class="tk1" transform="translate(29.07 286) scale(0.00405 -0.00405)" d="M700 0L510 0L510 1040L230 1040L230 1170Q390 1175 450 1230Q505 1290 520 1452L700 1452Z"/>
<text x="33.68" y="286" class="tk">6</text>
<line x1="44.4" y1="354.7" x2="44.4" y2="358" stroke="#111111" stroke-width="1.25"/>
<text x="42.09" y="366.6" class="tk">0</text>
<line x1="58.53" y1="354.7" x2="58.53" y2="358" stroke="#111111" stroke-width="1.25"/>
<path class="tk1" transform="translate(56.22 366.6) scale(0.00405 -0.00405)" d="M700 0L510 0L510 1040L230 1040L230 1170Q390 1175 450 1230Q505 1290 520 1452L700 1452Z"/>
<line x1="72.66" y1="354.7" x2="72.66" y2="358" stroke="#111111" stroke-width="1.25"/>
<text x="70.35" y="366.6" class="tk">2</text>
<line x1="86.79" y1="354.7" x2="86.79" y2="358" stroke="#111111" stroke-width="1.25"/>
<text x="84.48" y="366.6" class="tk">3</text>
<line x1="100.92" y1="354.7" x2="100.92" y2="358" stroke="#111111" stroke-width="1.25"/>
<text x="98.61" y="366.6" class="tk">4</text>
<line x1="115.05" y1="354.7" x2="115.05" y2="358" stroke="#111111" stroke-width="1.25"/>
<text x="112.74" y="366.6" class="tk">5</text>
<line x1="129.18" y1="354.7" x2="129.18" y2="358" stroke="#111111" stroke-width="1.25"/>
<text x="126.87" y="366.6" class="tk">6</text>
<line x1="143.31" y1="354.7" x2="143.31" y2="358" stroke="#111111" stroke-width="1.25"/>
<text x="141" y="366.6" class="tk">7</text>
<text x="97.1" y="378.85" class="lab" text-anchor="middle" textLength="10.6" lengthAdjust="spacingAndGlyphs">Day</text>
<text transform="translate(24.2 319.3) rotate(-90)" class="yl" text-anchor="middle" textLength="47.9" lengthAdjust="spacingAndGlyphs">KC-like (ng/mL)</text>
<text x="6.8" y="273.8" class="pl">G</text>
<rect x="42.4" y="352.7" width="4" height="4" fill="#0f4585"/>
<rect x="56.53" y="352.7" width="4" height="4" fill="#0f4585"/>
<rect x="84.79" y="352.7" width="4" height="4" fill="#0f4585"/>
<rect x="141.31" y="352.7" width="4" height="4" fill="#0f4585"/>
<polyline points="44.4,351.34 58.53,353.81 86.79,353.81 143.31,353.81" fill="none" stroke="#52bb5e" stroke-width="1.25"/>
<path d="M44.4 349.04L46.7 353.18L42.1 353.18Z" fill="#3bb54a"/>
<path d="M58.53 351.5L60.83 355.64L56.23 355.64Z" fill="#3bb54a"/>
<path d="M86.79 351.5L89.09 355.64L84.49 355.64Z" fill="#3bb54a"/>
<path d="M143.31 351.5L145.61 355.64L141.01 355.64Z" fill="#3bb54a"/>
<path d="M44.4 352.1L47 354.7L44.4 357.3L41.8 354.7Z" fill="#561c74"/>
<path d="M58.53 352.1L61.13 354.7L58.53 357.3L55.93 354.7Z" fill="#561c74"/>
<path d="M86.79 352.1L89.39 354.7L86.79 357.3L84.19 354.7Z" fill="#561c74"/>
<path d="M143.31 352.1L145.91 354.7L143.31 357.3L140.71 354.7Z" fill="#561c74"/>
<polyline points="44.4,354.7 58.53,354.7 86.79,354.7 143.31,354.7" fill="none" stroke="#c81c3c" stroke-width="1.3"/>
<circle cx="44.4" cy="354.7" r="2.15" fill="#d8102f"/>
<circle cx="58.53" cy="354.7" r="2.15" fill="#d8102f"/>
<circle cx="86.79" cy="354.7" r="2.15" fill="#d8102f"/>
<circle cx="143.31" cy="354.7" r="2.15" fill="#d8102f"/>
<line x1="123.3" y1="279.85" x2="135" y2="279.85" stroke="#c81c3c" stroke-width="1.25"/>
<circle cx="129.15" cy="279.85" r="2.09" fill="#d8102f"/>
<text x="138.2" y="282.75" class="lg" textLength="20.84" lengthAdjust="spacingAndGlyphs">FLR00</text>
<path class="lg1" transform="translate(159.04 282.75) scale(0.00339 -0.00347)" d="M700 0L510 0L510 1040L230 1040L230 1170Q390 1175 450 1230Q505 1290 520 1452L700 1452Z"/>
<line x1="123.3" y1="289.45" x2="135" y2="289.45" stroke="#184a84" stroke-width="1.25"/>
<rect x="127.21" y="287.51" width="3.88" height="3.88" fill="#0f4585"/>
<text x="138.2" y="292.35" class="lg" textLength="20.84" lengthAdjust="spacingAndGlyphs">FLR00</text>
<text x="159.04" y="292.35" class="lg" textLength="3.86" lengthAdjust="spacingAndGlyphs">2</text>
<line x1="123.3" y1="298.7" x2="135" y2="298.7" stroke="#52bb5e" stroke-width="1.25"/>
<path d="M129.15 296.47L131.38 300.48L126.92 300.48Z" fill="#3bb54a"/>
<text x="138.2" y="301.6" class="lg" textLength="20.84" lengthAdjust="spacingAndGlyphs">FLR00</text>
<text x="159.04" y="301.6" class="lg" textLength="3.86" lengthAdjust="spacingAndGlyphs">3</text>
<line x1="123.3" y1="307.8" x2="135" y2="307.8" stroke="#5a2876" stroke-width="1.25"/>
<path d="M129.15 305.28L131.67 307.8L129.15 310.32L126.63 307.8Z" fill="#561c74"/>
<text x="138.2" y="310.7" class="lg" textLength="20.84" lengthAdjust="spacingAndGlyphs">FLR00</text>
<text x="159.04" y="310.7" class="lg" textLength="3.86" lengthAdjust="spacingAndGlyphs">4</text>
<rect x="221.8" y="321.65" width="104.2" height="28.95" fill="#ececef"/>
<polyline points="220.1,354.8 234.14,354.8 262.22,354.8 318.38,354.8" fill="none" stroke="#fff" stroke-opacity="0.75" stroke-width="3.4"/>
<polyline points="220.1,350.22 234.14,352.01 262.22,352.01 318.38,352.01" fill="none" stroke="#fff" stroke-opacity="0.75" stroke-width="3.4"/>
<polyline points="220.1,352.08 234.14,352.01 262.22,352.08 318.38,352.01" fill="none" stroke="#fff" stroke-opacity="0.75" stroke-width="3.4"/>
<polyline points="220.1,353.3 234.14,353.3 262.22,353.3 318.38,353.3" fill="none" stroke="#fff" stroke-opacity="0.75" stroke-width="3.4"/>
<line x1="218.6" y1="319.65" x2="326" y2="319.65" stroke="#404040" stroke-width="1.45" stroke-dasharray="3 2.05" stroke-dashoffset="0.38"/>
<line x1="218.6" y1="352.1" x2="326" y2="352.1" stroke="#404040" stroke-width="1.45" stroke-dasharray="3 2.05" stroke-dashoffset="0.38"/>
<path d="M220.1 280.7V354.8H326" fill="none" stroke="#111111" stroke-width="1.4"/>
<line x1="216.9" y1="354.8" x2="220.1" y2="354.8" stroke="#111111" stroke-width="1.2"/>
<text x="209.38" y="357.7" class="tk">0</text>
<line x1="216.9" y1="336.9" x2="220.1" y2="336.9" stroke="#111111" stroke-width="1.2"/>
<text x="200.15" y="339.8" class="tk">500</text>
<line x1="216.9" y1="319" x2="220.1" y2="319" stroke="#111111" stroke-width="1.2"/>
<path class="tk1" transform="translate(195.54 321.9) scale(0.00405 -0.00405)" d="M700 0L510 0L510 1040L230 1040L230 1170Q390 1175 450 1230Q505 1290 520 1452L700 1452Z"/>
<text x="200.15" y="321.9" class="tk">000</text>
<line x1="216.9" y1="301.1" x2="220.1" y2="301.1" stroke="#111111" stroke-width="1.2"/>
<path class="tk1" transform="translate(195.54 304) scale(0.00405 -0.00405)" d="M700 0L510 0L510 1040L230 1040L230 1170Q390 1175 450 1230Q505 1290 520 1452L700 1452Z"/>
<text x="200.15" y="304" class="tk">500</text>
<line x1="216.9" y1="283.2" x2="220.1" y2="283.2" stroke="#111111" stroke-width="1.2"/>
<text x="195.54" y="286.1" class="tk">2000</text>
<line x1="220.1" y1="354.8" x2="220.1" y2="358.1" stroke="#111111" stroke-width="1.25"/>
<text x="217.79" y="366.7" class="tk">0</text>
<line x1="234.14" y1="354.8" x2="234.14" y2="358.1" stroke="#111111" stroke-width="1.25"/>
<path class="tk1" transform="translate(231.83 366.7) scale(0.00405 -0.00405)" d="M700 0L510 0L510 1040L230 1040L230 1170Q390 1175 450 1230Q505 1290 520 1452L700 1452Z"/>
<line x1="248.18" y1="354.8" x2="248.18" y2="358.1" stroke="#111111" stroke-width="1.25"/>
<text x="245.87" y="366.7" class="tk">2</text>
<line x1="262.22" y1="354.8" x2="262.22" y2="358.1" stroke="#111111" stroke-width="1.25"/>
<text x="259.91" y="366.7" class="tk">3</text>
<line x1="276.26" y1="354.8" x2="276.26" y2="358.1" stroke="#111111" stroke-width="1.25"/>
<text x="273.95" y="366.7" class="tk">4</text>
<line x1="290.3" y1="354.8" x2="290.3" y2="358.1" stroke="#111111" stroke-width="1.25"/>
<text x="287.99" y="366.7" class="tk">5</text>
<line x1="304.34" y1="354.8" x2="304.34" y2="358.1" stroke="#111111" stroke-width="1.25"/>
<text x="302.03" y="366.7" class="tk">6</text>
<line x1="318.38" y1="354.8" x2="318.38" y2="358.1" stroke="#111111" stroke-width="1.25"/>
<text x="316.07" y="366.7" class="tk">7</text>
<text x="276.05" y="378.9" class="lab" text-anchor="middle" textLength="10.6" lengthAdjust="spacingAndGlyphs">Day</text>
<text transform="translate(191.6 318.3) rotate(-90)" class="yl" text-anchor="middle" textLength="44.8" lengthAdjust="spacingAndGlyphs">MCP-1 (pg/mL)</text>
<text x="179.6" y="273.8" class="pl">H</text>
<polyline points="220.1,354.8 234.14,354.8 262.22,354.8 318.38,354.8" fill="none" stroke="#184a84" stroke-width="1.25"/>
<line x1="220.1" y1="354.8" x2="326" y2="354.8" stroke="#111111" stroke-opacity="0.6" stroke-width="1.4"/>
<rect x="218.1" y="352.8" width="4" height="4" fill="#0f4585"/>
<rect x="232.14" y="352.8" width="4" height="4" fill="#0f4585"/>
<rect x="260.22" y="352.8" width="4" height="4" fill="#0f4585"/>
<rect x="316.38" y="352.8" width="4" height="4" fill="#0f4585"/>
<polyline points="220.1,350.22 234.14,352.01 262.22,352.01 318.38,352.01" fill="none" stroke="#52bb5e" stroke-width="1.25"/>
<path d="M220.1 347.92L222.4 352.06L217.8 352.06Z" fill="#3bb54a"/>
<path d="M234.14 349.71L236.44 353.85L231.84 353.85Z" fill="#3bb54a"/>
<path d="M262.22 349.71L264.52 353.85L259.92 353.85Z" fill="#3bb54a"/>
<path d="M318.38 349.71L320.68 353.85L316.08 353.85Z" fill="#3bb54a"/>
<polyline points="220.1,352.08 234.14,352.01 262.22,352.08 318.38,352.01" fill="none" stroke="#5a2876" stroke-width="1.25"/>
<path d="M220.1 349.48L222.7 352.08L220.1 354.68L217.5 352.08Z" fill="#561c74"/>
<path d="M234.14 349.41L236.74 352.01L234.14 354.61L231.54 352.01Z" fill="#561c74"/>
<path d="M262.22 349.48L264.82 352.08L262.22 354.68L259.62 352.08Z" fill="#561c74"/>
<path d="M318.38 349.41L320.98 352.01L318.38 354.61L315.78 352.01Z" fill="#561c74"/>
<polyline points="220.1,353.3 234.14,353.3 262.22,353.3 318.38,353.3" fill="none" stroke="#c81c3c" stroke-width="1.3"/>
<circle cx="220.1" cy="353.3" r="2.15" fill="#d8102f"/>
<circle cx="234.14" cy="353.3" r="2.15" fill="#d8102f"/>
<circle cx="262.22" cy="353.3" r="2.15" fill="#d8102f"/>
<circle cx="318.38" cy="353.3" r="2.15" fill="#d8102f"/>
<line x1="294.5" y1="279.95" x2="306.2" y2="279.95" stroke="#c81c3c" stroke-width="1.25"/>
<circle cx="300.35" cy="279.95" r="2.09" fill="#d8102f"/>
<text x="309.4" y="282.85" class="lg" textLength="20.84" lengthAdjust="spacingAndGlyphs">FLR00</text>
<path class="lg1" transform="translate(330.24 282.85) scale(0.00339 -0.00347)" d="M700 0L510 0L510 1040L230 1040L230 1170Q390 1175 450 1230Q505 1290 520 1452L700 1452Z"/>
<line x1="294.5" y1="289.55" x2="306.2" y2="289.55" stroke="#184a84" stroke-width="1.25"/>
<rect x="298.41" y="287.61" width="3.88" height="3.88" fill="#0f4585"/>
<text x="309.4" y="292.45" class="lg" textLength="20.84" lengthAdjust="spacingAndGlyphs">FLR00</text>
<text x="330.24" y="292.45" class="lg" textLength="3.86" lengthAdjust="spacingAndGlyphs">2</text>
<line x1="294.5" y1="298.8" x2="306.2" y2="298.8" stroke="#52bb5e" stroke-width="1.25"/>
<path d="M300.35 296.57L302.58 300.58L298.12 300.58Z" fill="#3bb54a"/>
<text x="309.4" y="301.7" class="lg" textLength="20.84" lengthAdjust="spacingAndGlyphs">FLR00</text>
<text x="330.24" y="301.7" class="lg" textLength="3.86" lengthAdjust="spacingAndGlyphs">3</text>
<line x1="294.5" y1="307.9" x2="306.2" y2="307.9" stroke="#5a2876" stroke-width="1.25"/>
<path d="M300.35 305.38L302.87 307.9L300.35 310.42L297.83 307.9Z" fill="#561c74"/>
<text x="309.4" y="310.8" class="lg" textLength="20.84" lengthAdjust="spacingAndGlyphs">FLR00</text>
<text x="330.24" y="310.8" class="lg" textLength="3.86" lengthAdjust="spacingAndGlyphs">4</text>
<rect x="389.2" y="327.97" width="104" height="23.63" fill="#ececef"/>
<polyline points="387.5,349.17 401.66,352.93 429.98,352.93 486.62,351.86" fill="none" stroke="#fff" stroke-opacity="0.75" stroke-width="3.4"/>
<polyline points="387.5,344.88 401.66,334.49 429.98,338.07 486.62,339.33" fill="none" stroke="#fff" stroke-opacity="0.75" stroke-width="3.4"/>
<polyline points="387.5,354.9 401.66,354.9 429.98,354.9 486.62,354.9" fill="none" stroke="#fff" stroke-opacity="0.75" stroke-width="3.4"/>
<line x1="386" y1="325.97" x2="493.2" y2="325.97" stroke="#404040" stroke-width="1.45" stroke-dasharray="3 2.07" stroke-dashoffset="0.11"/>
<line x1="386" y1="353.1" x2="493.2" y2="353.1" stroke="#404040" stroke-width="1.45" stroke-dasharray="3 2.07" stroke-dashoffset="0.11"/>
<path d="M387.5 280.8V354.9H493.2" fill="none" stroke="#111111" stroke-width="1.4"/>
<line x1="384.3" y1="354.9" x2="387.5" y2="354.9" stroke="#111111" stroke-width="1.2"/>
<text x="376.78" y="357.8" class="tk">0</text>
<line x1="384.3" y1="337" x2="387.5" y2="337" stroke="#111111" stroke-width="1.2"/>
<path class="tk1" transform="translate(367.55 339.9) scale(0.00405 -0.00405)" d="M700 0L510 0L510 1040L230 1040L230 1170Q390 1175 450 1230Q505 1290 520 1452L700 1452Z"/>
<text x="372.17" y="339.9" class="tk">00</text>
<line x1="384.3" y1="319.1" x2="387.5" y2="319.1" stroke="#111111" stroke-width="1.2"/>
<text x="367.55" y="322" class="tk">200</text>
<line x1="384.3" y1="301.2" x2="387.5" y2="301.2" stroke="#111111" stroke-width="1.2"/>
<text x="367.55" y="304.1" class="tk">300</text>
<line x1="384.3" y1="283.3" x2="387.5" y2="283.3" stroke="#111111" stroke-width="1.2"/>
<text x="367.55" y="286.2" class="tk">400</text>
<line x1="387.5" y1="354.9" x2="387.5" y2="358.2" stroke="#111111" stroke-width="1.25"/>
<text x="385.19" y="366.8" class="tk">0</text>
<line x1="401.66" y1="354.9" x2="401.66" y2="358.2" stroke="#111111" stroke-width="1.25"/>
<path class="tk1" transform="translate(399.35 366.8) scale(0.00405 -0.00405)" d="M700 0L510 0L510 1040L230 1040L230 1170Q390 1175 450 1230Q505 1290 520 1452L700 1452Z"/>
<line x1="415.82" y1="354.9" x2="415.82" y2="358.2" stroke="#111111" stroke-width="1.25"/>
<text x="413.51" y="366.8" class="tk">2</text>
<line x1="429.98" y1="354.9" x2="429.98" y2="358.2" stroke="#111111" stroke-width="1.25"/>
<text x="427.67" y="366.8" class="tk">3</text>
<line x1="444.14" y1="354.9" x2="444.14" y2="358.2" stroke="#111111" stroke-width="1.25"/>
<text x="441.83" y="366.8" class="tk">4</text>
<line x1="458.3" y1="354.9" x2="458.3" y2="358.2" stroke="#111111" stroke-width="1.25"/>
<text x="455.99" y="366.8" class="tk">5</text>
<line x1="472.46" y1="354.9" x2="472.46" y2="358.2" stroke="#111111" stroke-width="1.25"/>
<text x="470.15" y="366.8" class="tk">6</text>
<line x1="486.62" y1="354.9" x2="486.62" y2="358.2" stroke="#111111" stroke-width="1.25"/>
<text x="484.31" y="366.8" class="tk">7</text>
<text x="440.05" y="378.85" class="lab" text-anchor="middle" textLength="10.6" lengthAdjust="spacingAndGlyphs">Day</text>
<text transform="translate(358 317.9) rotate(-90)" class="yl" text-anchor="middle" textLength="42.7" lengthAdjust="spacingAndGlyphs">TNF<tspan class="ga">α</tspan> (pg/mL)</text>
<text x="351.3" y="273.8" class="pl">I</text>
<rect x="385.5" y="352.9" width="4" height="4" fill="#0f4585"/>
<rect x="399.66" y="352.9" width="4" height="4" fill="#0f4585"/>
<rect x="427.98" y="352.9" width="4" height="4" fill="#0f4585"/>
<rect x="484.62" y="352.9" width="4" height="4" fill="#0f4585"/>
<polyline points="387.5,349.17 401.66,352.93 429.98,352.93 486.62,351.86" fill="none" stroke="#52bb5e" stroke-width="1.25"/>
<path d="M387.5 346.87L389.8 351.01L385.2 351.01Z" fill="#3bb54a"/>
<path d="M401.66 350.63L403.96 354.77L399.36 354.77Z" fill="#3bb54a"/>
<path d="M429.98 350.63L432.28 354.77L427.68 354.77Z" fill="#3bb54a"/>
<path d="M486.62 349.56L488.92 353.7L484.32 353.7Z" fill="#3bb54a"/>
<polyline points="387.5,344.88 401.66,334.49 429.98,338.07 486.62,339.33" fill="none" stroke="#5a2876" stroke-width="1.25"/>
<path d="M387.5 342.28L390.1 344.88L387.5 347.48L384.9 344.88Z" fill="#561c74"/>
<path d="M401.66 331.89L404.26 334.49L401.66 337.09L399.06 334.49Z" fill="#561c74"/>
<path d="M429.98 335.47L432.58 338.07L429.98 340.67L427.38 338.07Z" fill="#561c74"/>
<path d="M486.62 336.73L489.22 339.33L486.62 341.93L484.02 339.33Z" fill="#561c74"/>
<polyline points="387.5,354.9 401.66,354.9 429.98,354.9 486.62,354.9" fill="none" stroke="#c81c3c" stroke-width="1.3"/>
<circle cx="387.5" cy="354.9" r="2.15" fill="#d8102f"/>
<circle cx="401.66" cy="354.9" r="2.15" fill="#d8102f"/>
<circle cx="429.98" cy="354.9" r="2.15" fill="#d8102f"/>
<circle cx="486.62" cy="354.9" r="2.15" fill="#d8102f"/>
<line x1="471.9" y1="280.05" x2="483.6" y2="280.05" stroke="#c81c3c" stroke-width="1.25"/>
<circle cx="477.75" cy="280.05" r="2.09" fill="#d8102f"/>
<text x="486.8" y="282.95" class="lg" textLength="20.84" lengthAdjust="spacingAndGlyphs">FLR00</text>
<path class="lg1" transform="translate(507.64 282.95) scale(0.00339 -0.00347)" d="M700 0L510 0L510 1040L230 1040L230 1170Q390 1175 450 1230Q505 1290 520 1452L700 1452Z"/>
<line x1="471.9" y1="289.65" x2="483.6" y2="289.65" stroke="#184a84" stroke-width="1.25"/>
<rect x="475.81" y="287.71" width="3.88" height="3.88" fill="#0f4585"/>
<text x="486.8" y="292.55" class="lg" textLength="20.84" lengthAdjust="spacingAndGlyphs">FLR00</text>
<text x="507.64" y="292.55" class="lg" textLength="3.86" lengthAdjust="spacingAndGlyphs">2</text>
<line x1="471.9" y1="298.9" x2="483.6" y2="298.9" stroke="#52bb5e" stroke-width="1.25"/>
<path d="M477.75 296.67L479.98 300.68L475.52 300.68Z" fill="#3bb54a"/>
<text x="486.8" y="301.8" class="lg" textLength="20.84" lengthAdjust="spacingAndGlyphs">FLR00</text>
<text x="507.64" y="301.8" class="lg" textLength="3.86" lengthAdjust="spacingAndGlyphs">3</text>
<line x1="471.9" y1="308" x2="483.6" y2="308" stroke="#5a2876" stroke-width="1.25"/>
<path d="M477.75 305.48L480.27 308L477.75 310.52L475.23 308Z" fill="#561c74"/>
<text x="486.8" y="310.9" class="lg" textLength="20.84" lengthAdjust="spacingAndGlyphs">FLR00</text>
<text x="507.64" y="310.9" class="lg" textLength="3.86" lengthAdjust="spacingAndGlyphs">4</text>
<rect x="0.5" y="0.5" width="519" height="385" fill="none" stroke="#000" stroke-width="1"/>
</svg>
</body></html>
